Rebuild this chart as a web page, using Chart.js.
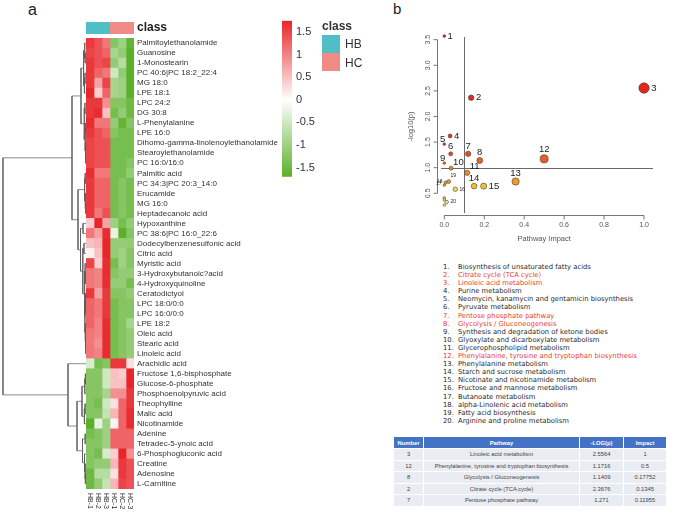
<!DOCTYPE html>
<html>
<head>
<meta charset="utf-8">
<script src="https://cdn.jsdelivr.net/npm/chart.js@4.4.0/dist/chart.umd.min.js"></script>
<style>
  body { margin: 0; background: #fff; }
  #page { position: relative; width: 676px; height: 514px; overflow: hidden; font-family: 'Liberation Sans', Arial, sans-serif; }
  #page canvas { position: absolute; }
  .panel { position: absolute; color: #222; }
  .clsLegend { position: absolute; font-size: 12px; color: #333; }
  .swatch { position: absolute; width: 18px; height: 18px; }
  #pathList { position: absolute; left: 443px; top: 263px; font-family: 'DejaVu Sans', sans-serif; font-size: 6.8px; line-height: 8.1px; color: #2a2a2a; white-space: nowrap; }
  #pathList .num { display: inline-block; width: 15px; }
  #pathList .hot { color: #e8412f; }
  #pathTable { position: absolute; left: 393px; top: 436px; width: 273px; border-collapse: collapse; font-size: 5.8px; color: #444; table-layout: fixed; }
  #pathTable th { background: #4472c4; color: #fff; font-weight: bold; height: 11px; padding: 0; border: 1px solid #fff; }
  #pathTable td { background: #e9ecf2; height: 10.5px; padding: 0; text-align: center; border: 1px solid #fff; }
</style>
</head>
<body>
<div id="page">
  <div class="panel" style="left:28px;top:2px;font-size:16px;line-height:16px">a</div>
  <div class="panel" style="left:393px;top:1px;font-size:15px;line-height:15px">b</div>

  <canvas id="dendro" width="86" height="494" style="left:0;top:20px"></canvas>
  <canvas id="heat" width="244" height="494" style="left:86px;top:20px"></canvas>
  <canvas id="scaleBar" width="48" height="180" style="left:282px;top:10px"></canvas>

  <div class="clsLegend" style="left:322px;top:19px;font-weight:bold">class</div>
  <div class="swatch" id="swHB" style="left:322px;top:35px"></div>
  <div class="swatch" id="swHC" style="left:322px;top:53px"></div>
  <div class="clsLegend" style="left:345px;top:37px">HB</div>
  <div class="clsLegend" style="left:345px;top:56px">HC</div>

  <canvas id="bubble" width="281" height="230" style="left:395px;top:20px"></canvas>

  <div id="pathList"></div>
  <table id="pathTable"></table>
</div>

<script>
// ---- panel a: heatmap data ----
const metabolites = [
  'Palmitoylethanolamide', 'Guanosine', '1-Monostearin', 'PC 40:6|PC 18:2_22:4', 'MG 18:0',
  'LPE 18:1', 'LPC 24:2', 'DG 30:8', 'L-Phenylalanine', 'LPE 16:0',
  'Dihomo-gamma-linolenoylethanolamide', 'Stearoylethanolamide', 'PC 16:0/16:0', 'Palmitic acid', 'PC 34:3|PC 20:3_14:0',
  'Erucamide', 'MG 16:0', 'Heptadecanoic acid', 'Hypoxanthine', 'PC 38:6|PC 16:0_22:6',
  'Dodecylbenzenesulfonic acid', 'Citric acid', 'Myristic acid', '3-Hydroxybutanoic?acid', '4-Hydroxyquinoline',
  'Ceratodictyol', 'LPC 18:0/0:0', 'LPC 16:0/0:0', 'LPE 18:2', 'Oleic acid',
  'Stearic acid', 'Linoleic acid', 'Arachidic acid', 'Fructose 1,6-bisphosphate', 'Glucose-6-phosphate',
  'Phosphoenolpyruvic acid', 'Theophylline', 'Malic acid', 'Nicotinamide', 'Adenine',
  'Tetradec-5-ynoic acid', '6-Phosphogluconic acid', 'Creatine', 'Adenosine', 'L-Carnitine'
];
const sampleNames = ['HB-1', 'HB-2', 'HB-3', 'HC-1', 'HC-2', 'HC-3'];
const sampleClass = ['HB', 'HB', 'HB', 'HC', 'HC', 'HC'];

// z-scores, one row per metabolite (HB-1 .. HC-3)
const zScores = [
  [1.6, 1.4, 1.1, -1.25, -1.0, -1.6],
  [1.5, 1.4, 1.25, -0.9, -1.1, -1.7],
  [1.6, 1.4, 1.5, -1.1, -0.75, -1.7],
  [1.6, 1.25, 1.1, -0.5, -1.1, -1.7],
  [1.6, 0.75, 1.5, -0.9, -1.0, -1.7],
  [1.75, 0.4, 1.25, -0.9, -1.0, -1.7],
  [1.6, 1.6, 0.9, -1.25, -1.25, -1.5],
  [1.6, 1.7, 0.5, -1.4, -1.1, -1.5],
  [1.7, 1.1, 1.1, -1.1, -1.6, -1.25],
  [1.6, 1.4, 1.25, -1.25, -1.4, -1.4],
  [1.5, 1.4, 1.4, -1.4, -1.4, -1.4],
  [1.5, 1.4, 1.4, -1.4, -1.4, -1.4],
  [1.5, 1.4, 1.4, -1.4, -1.4, -1.25],
  [1.7, 1.1, 1.1, -1.4, -1.4, -1.1],
  [1.6, 1.25, 1.25, -1.4, -1.25, -1.4],
  [1.6, 1.25, 1.25, -1.4, -1.25, -1.4],
  [1.6, 1.25, 1.25, -1.4, -1.25, -1.4],
  [1.6, 1.1, 1.4, -1.4, -1.25, -1.4],
  [0.4, 1.75, 0.75, -1.0, -1.4, -1.1],
  [1.1, 0.75, 1.7, -0.25, -1.7, -1.25],
  [0.5, 0.6, 1.75, -1.1, -1.1, -1.1],
  [0.1, 0.5, 1.75, -1.1, -1.0, -1.25],
  [1.5, 0.4, 1.7, -1.4, -1.0, -1.25],
  [1.1, 1.0, 1.7, -1.25, -1.1, -1.1],
  [1.1, 1.0, 1.7, -1.1, -1.1, -1.4],
  [1.6, 0.75, 1.6, -1.25, -1.25, -1.1],
  [1.25, 1.1, 1.6, -1.4, -1.25, -1.25],
  [1.25, 1.1, 1.6, -1.4, -1.25, -1.25],
  [1.25, 1.0, 1.7, -1.4, -1.25, -0.9],
  [1.1, 1.0, 1.7, -1.4, -1.25, -1.1],
  [1.1, 0.9, 1.7, -1.4, -1.25, -1.1],
  [1.1, 1.0, 1.7, -1.4, -1.25, -1.1],
  [-0.4, -1.4, -1.25, 1.6, 1.6, 0.25],
  [-1.25, -1.25, -0.5, 0.5, 0.4, 1.75],
  [-1.25, -1.25, -0.5, 0.5, 0.5, 1.75],
  [-1.25, -1.25, -0.9, 0.9, 0.9, 1.6],
  [-1.25, -1.4, -0.5, 0.25, 1.25, 1.6],
  [-1.25, -1.25, -0.6, 0.6, 1.25, 1.7],
  [-1.7, -0.25, -1.0, 0.1, 1.25, 1.7],
  [-1.4, -1.25, -1.0, 1.25, 1.25, 1.25],
  [-1.25, -1.25, -1.0, 1.25, 1.25, 1.25],
  [-1.25, -1.4, -0.4, 0.4, 1.75, 0.9],
  [-1.25, -1.1, -1.1, 0.6, 1.6, 1.4],
  [-1.5, -0.75, -0.75, 0.25, 1.6, 1.4],
  [-1.5, -1.1, -0.6, 0.6, 1.5, 1.4]
];

// row clustering: [left, right, height], leaves are row indices
const rowTreeA1 = [[[0, [1, 2, 0.8], 1.3], [[3, 4, 1.0], 5, 1.6], 2.4],
                   [[6, 7, 1.1], [[8, 9, 0.7], [10, [11, 12, 0.4], 0.6], 1.0], 1.8], 5];
const rowTreeA2 = [[[13, 14, 0.8], [15, [16, 17, 0.5], 0.8], 1.4],
                   [[18, 19, 3.0], [[20, 21, 2.0], [[22, [23, 24, 0.6], 1.0],
                     [[25, [26, 27, 0.3], 0.6], [28, [29, [30, 31, 0.3], 0.5], 0.8], 1.1], 1.6], 3.2], 5.5], 8];
const rowTreeB = [32, [[[[33, 34, 0.6], 35, 1.2], [[36, 37, 0.9], 38, 1.6], 4],
                       [[39, 40, 0.8], [41, [42, [43, 44, 0.6], 1.0], 1.5], 3.5], 9], 18];
const rowTree = [[rowTreeA1, rowTreeA2, 14], rowTreeB, 83];

const zMin = -1.7, zMax = 1.75;
const legendTicks = [-1.5, -1, -0.5, 0, 0.5, 1, 1.5];

// ---- panel b: pathway data ----
const pathwayNames = [
  'Biosynthesis of unsaturated fatty acids', 'Citrate cycle (TCA cycle)', 'Linoleic acid metabolism',
  'Purine metabolism', 'Neomycin, kanamycin and gentamicin biosynthesis', 'Pyruvate metabolism',
  'Pentose phosphate pathway', 'Glycolysis / Gluconeogenesis', 'Synthesis and degradation of ketone bodies',
  'Glyoxylate and dicarboxylate metabolism', 'Glycerophospholipid metabolism',
  'Phenylalanine, tyrosine and tryptophan biosynthesis', 'Phenylalanine metabolism', 'Starch and sucrose metabolism',
  'Nicotinate and nicotinamide metabolism', 'Fructose and mannose metabolism', 'Butanoate metabolism',
  'alpha-Linolenic acid metabolism', 'Fatty acid biosynthesis', 'Arginine and proline metabolism'
];
const highlightedPathways = [2, 3, 7, 8, 12];
const pointIds = ['1', '2', '3', '4', '5', '6', '7', '8', '9', '10', '11', '12', '13', '14', '15', '16', '17', '18', '19', '20', '', '', ''];
const pathwayImpact = [0, 0.1345, 1, 0.029, 0, 0.032, 0.11955, 0.17752, 0, 0.034, 0.114, 0.5, 0.357, 0.149, 0.197, 0.055, 0, 0.007, 0.022, 0.012, 0, 0, 0];
const pathwayLogP = [3.57, 2.3676, 2.5564, 1.62, 1.46, 1.27, 1.271, 1.1409, 1.09, 0.99, 0.90, 1.1716, 0.73, 0.64, 0.64, 0.58, 0.66, 0.71, 0.73, 0.33, 0.41, 0.37, 0.27];
const impactTicks = [0, 0.2, 0.4, 0.6, 0.8, 1.0];
const logPTicks = [0.5, 1.0, 1.5, 2.0, 2.5, 3.0, 3.5];
const impactCut = 0.1, logPCut = 1.0;

// table
const tableHeader = ['Number', 'Pathway', '-LOG(p)', 'Impact'];
const tableNumber = ['3', '12', '8', '2', '7'];
const tablePathway = ['Linoleic acid metabolism', 'Phenylalanine, tyrosine and tryptophan biosynthesis',
  'Glycolysis / Gluconeogenesis', 'Citrate cycle (TCA cycle)', 'Pentose phosphate pathway'];
const tableLogP = ['2.5564', '1.1716', '1.1409', '2.3676', '1.271'];
const tableImpact = ['1', '0.5', '0.17752', '0.1345', '0.11955'];

// ---- styles ----
Chart.defaults.font.family = "'Liberation Sans', Arial, sans-serif";
const classColor = { HB: '#4fbec6', HC: '#ef8b84' };
const lowRGB = [90, 176, 42], midRGB = [255, 255, 255], highRGB = [232, 38, 42];
const zeroPos = (0 - zMin) / (zMax - zMin);

function mix(a, b, t) {
  return 'rgb(' + a.map((v, i) => Math.round(v + (b[i] - v) * t)).join(',') + ')';
}
function zColor(v) {
  const t = Math.min(1, Math.max(0, (v - zMin) / (zMax - zMin)));
  return t < zeroPos ? mix(lowRGB, midRGB, t / zeroPos) : mix(midRGB, highRGB, (t - zeroPos) / (1 - zeroPos));
}

const bubbleStops = [[0.25, [246, 242, 180]], [0.58, [244, 222, 60]], [0.64, [242, 194, 42]], [0.73, [240, 152, 43]],
  [1.0, [233, 132, 47]], [1.15, [230, 98, 42]], [1.3, [226, 70, 42]], [1.6, [223, 48, 40]],
  [2.3, [230, 40, 32]], [3.6, [200, 32, 28]]];
function pColor(v) {
  for (let i = 1; i < bubbleStops.length; i++) {
    const [v0, c0] = bubbleStops[i - 1], [v1, c1] = bubbleStops[i];
    if (v <= v1) return mix(c0, c1, Math.max(0, (v - v0) / (v1 - v0)));
  }
  const last = bubbleStops[bubbleStops.length - 1][1];
  return mix(last, last, 0);
}
function impactRadius(imp) {
  return 1.3 + 3.9 * Math.sqrt(imp);
}
// where each number sits relative to its bubble
const labelPlace = ['r', 'r', 'r', 'r', 'tl', 't', 't', 't', 'tl', 'tr', 'tr', 't', 't', 't', 'r', 'rs', 'ls', 'ls', 'trs', 'rs', '', '', ''];

// ---- dendrogram ----
const segments = [];
function place(node) {
  if (typeof node === 'number') return { y: node, h: 0 };
  const a = place(node[0]), b = place(node[1]), h = node[2];
  segments.push([{ x: a.h, y: a.y }, { x: h, y: a.y }, { x: h, y: b.y }, { x: b.h, y: b.y }]);
  return { y: (a.y + b.y) / 2, h: h };
}
place(rowTree);

new Chart(document.getElementById('dendro'), {
  type: 'scatter',
  data: {
    datasets: segments.map(seg => ({
      data: seg, showLine: true, borderColor: '#5a5a5a', borderWidth: 0.7,
      pointRadius: 0, fill: false, clip: false
    }))
  },
  options: {
    responsive: false, animation: false,
    layout: { padding: { top: 18, bottom: 25, left: 3, right: 0 } },
    plugins: { legend: { display: false }, tooltip: { enabled: false } },
    scales: {
      x: { type: 'linear', min: 0, max: 83, reverse: true, display: false },
      y: { type: 'linear', min: -0.5, max: metabolites.length - 0.5, reverse: true, display: false }
    }
  }
});

// ---- heatmap ----
const heatDecor = {
  id: 'heatDecor',
  afterDraw(chart) {
    const { ctx, chartArea, scales } = chart;
    ctx.save();
    sampleNames.forEach((s, c) => {
      const x0 = scales.x.getPixelForValue(c), x1 = scales.x.getPixelForValue(c + 1);
      ctx.fillStyle = classColor[sampleClass[c]];
      ctx.fillRect(x0, chartArea.top - 16, x1 - x0, 12);
      // column label, reads downward
      ctx.save();
      ctx.translate((x0 + x1) / 2, chartArea.bottom + 4);
      ctx.rotate(Math.PI / 2);
      ctx.fillStyle = '#333';
      ctx.font = "7px 'Liberation Sans', Arial";
      ctx.textAlign = 'left';
      ctx.textBaseline = 'middle';
      ctx.fillText(s, 0, 0);
      ctx.restore();
    });
    ctx.fillStyle = '#222';
    ctx.font = "bold 12px 'Liberation Sans', Arial";
    ctx.textBaseline = 'middle';
    ctx.fillText('class', chartArea.right + 3, chartArea.top - 10);
    ctx.restore();
  }
};

new Chart(document.getElementById('heat'), {
  type: 'bar',
  data: {
    labels: metabolites,
    datasets: sampleNames.map((s, c) => ({
      label: s,
      data: metabolites.map(() => [c, c + 1]),
      backgroundColor: zScores.map(row => zColor(row[c])),
      borderWidth: 0,
      barPercentage: 1,
      categoryPercentage: 1,
      grouped: false
    }))
  },
  options: {
    indexAxis: 'y', responsive: false, animation: false,
    layout: { padding: { top: 18, bottom: 25, left: 0, right: 0 } },
    plugins: { legend: { display: false }, tooltip: { enabled: false } },
    scales: {
      x: { type: 'linear', min: 0, max: sampleNames.length, display: false },
      y: {
        position: 'right',
        grid: { display: false, drawTicks: false },
        border: { display: false },
        ticks: { font: { size: 8 }, color: '#333', padding: 3, autoSkip: false },
        afterFit: s => { s.width = 196; }
      }
    }
  },
  plugins: [heatDecor]
});

// ---- colour scale ----
new Chart(document.getElementById('scaleBar'), {
  type: 'bar',
  data: {
    labels: [''],
    datasets: [{
      data: [[zMin, zMax]],
      backgroundColor: ctx => {
        const area = ctx.chart.chartArea;
        if (!area) return '#fff';
        const g = ctx.chart.ctx.createLinearGradient(0, area.bottom, 0, area.top);
        g.addColorStop(0, mix(lowRGB, lowRGB, 0));
        g.addColorStop(zeroPos, '#ffffff');
        g.addColorStop(1, mix(highRGB, highRGB, 0));
        return g;
      },
      borderWidth: 0, barPercentage: 1, categoryPercentage: 1
    }]
  },
  options: {
    responsive: false, animation: false,
    layout: { padding: { top: 10.7, bottom: 13.3, left: 0, right: 0 } },
    plugins: { legend: { display: false }, tooltip: { enabled: false } },
    scales: {
      x: { display: false },
      y: {
        position: 'right', min: zMin, max: zMax,
        grid: { display: false, drawTicks: false },
        border: { display: false },
        ticks: { font: { size: 11 }, color: '#333', padding: 4, callback: v => String(v) },
        afterBuildTicks: s => { s.ticks = legendTicks.map(v => ({ value: v })); },
        afterFit: s => { s.width = 38; }
      }
    }
  }
});

document.getElementById('swHB').style.background = classColor.HB;
document.getElementById('swHC').style.background = classColor.HC;

// ---- bubble plot ----
const bubbleDecor = {
  id: 'bubbleDecor',
  beforeDatasetsDraw(chart) {
    const { ctx, chartArea, scales } = chart;
    ctx.save();
    ctx.strokeStyle = '#6a6a6a';
    ctx.lineWidth = 1;
    const vx = Math.round(scales.x.getPixelForValue(impactCut)) + 0.5;
    const hy = Math.round(scales.y.getPixelForValue(logPCut)) + 0.5;
    ctx.beginPath();
    ctx.moveTo(vx, chartArea.top + 7);
    ctx.lineTo(vx, chartArea.bottom - 2);
    ctx.moveTo(chartArea.left + 4, hy);
    ctx.lineTo(chartArea.right - 2, hy);
    ctx.stroke();
    ctx.restore();
  },
  afterDraw(chart) {
    const { ctx, chartArea, scales } = chart;
    const xs = scales.x, ys = scales.y;
    ctx.save();
    ctx.strokeStyle = '#555';
    ctx.fillStyle = '#555';
    ctx.lineWidth = 0.8;
    ctx.font = "7px 'Liberation Sans', Arial";
    // y axis
    const ax = chartArea.left + 0.5;
    ctx.beginPath();
    ctx.moveTo(ax, ys.getPixelForValue(logPTicks[0]));
    ctx.lineTo(ax, ys.getPixelForValue(logPTicks[logPTicks.length - 1]));
    logPTicks.forEach(v => {
      const y = ys.getPixelForValue(v);
      ctx.moveTo(ax, y);
      ctx.lineTo(ax - 4, y);
    });
    ctx.stroke();
    ctx.textAlign = 'center';
    ctx.textBaseline = 'middle';
    logPTicks.forEach(v => {
      ctx.save();
      ctx.translate(ax - 9, ys.getPixelForValue(v));
      ctx.rotate(-Math.PI / 2);
      ctx.fillText(v.toFixed(1), 0, 0);
      ctx.restore();
    });
    // x axis
    const ay = chartArea.bottom + 0.5;
    ctx.beginPath();
    ctx.moveTo(xs.getPixelForValue(impactTicks[0]), ay);
    ctx.lineTo(xs.getPixelForValue(impactTicks[impactTicks.length - 1]), ay);
    impactTicks.forEach(v => {
      const x = xs.getPixelForValue(v);
      ctx.moveTo(x, ay);
      ctx.lineTo(x, ay + 4);
    });
    ctx.stroke();
    impactTicks.forEach(v => ctx.fillText(v.toFixed(1), xs.getPixelForValue(v), ay + 10));
    // titles
    ctx.font = "7.5px 'Liberation Sans', Arial";
    ctx.fillText('Pathway Impact', (xs.getPixelForValue(0) + xs.getPixelForValue(1)) / 2, ay + 23);
    ctx.save();
    ctx.translate(chartArea.left - 26, ys.getPixelForValue(2.0) + 10);
    ctx.rotate(-Math.PI / 2);
    ctx.fillText('-log10(p)', 0, 0);
    ctx.restore();
    // point numbers
    const pts = chart.getDatasetMeta(0).data;
    ctx.fillStyle = '#222';
    pts.forEach((p, i) => {
      const id = pointIds[i], pos = labelPlace[i];
      if (!id) return;
      const r = impactRadius(pathwayImpact[i]);
      const small = pos.endsWith('s');
      ctx.font = (small ? 5 : 9.5) + "px 'Liberation Sans', Arial";
      ctx.textBaseline = 'middle';
      const kind = small ? pos.slice(0, -1) : pos;
      if (kind === 'r') { ctx.textAlign = 'left'; ctx.fillText(id, p.x + r + 2, p.y); }
      else if (kind === 'l') { ctx.textAlign = 'right'; ctx.fillText(id, p.x - r - 1.5, p.y - 1); }
      else if (kind === 't') { ctx.textAlign = 'center'; ctx.fillText(id, p.x, p.y - r - 5); }
      else if (kind === 'tl') { ctx.textAlign = 'right'; ctx.fillText(id, p.x + 1, p.y - r - 3); }
      else if (kind === 'tr') { ctx.textAlign = 'left'; ctx.fillText(id, p.x + r, p.y - r - 4); }
    });
    ctx.restore();
  }
};

new Chart(document.getElementById('bubble'), {
  type: 'bubble',
  data: {
    datasets: [{
      data: pathwayImpact.map((imp, i) => ({ x: imp, y: pathwayLogP[i], r: impactRadius(imp) })),
      backgroundColor: pathwayLogP.map(pColor),
      borderColor: '#4a3a30',
      borderWidth: 0.6,
      clip: false
    }]
  },
  options: {
    responsive: false, animation: false,
    layout: { padding: { left: 42, right: 21, top: 10, bottom: 35 } },
    plugins: { legend: { display: false }, tooltip: { enabled: false } },
    scales: {
      x: { type: 'linear', min: -0.0366, max: 1.055, display: false },
      y: { type: 'linear', min: 0.076, max: 3.689, display: false }
    }
  },
  plugins: [bubbleDecor]
});

// ---- pathway list ----
const list = document.getElementById('pathList');
pathwayNames.forEach((name, i) => {
  const row = document.createElement('div');
  if (highlightedPathways.includes(i + 1)) row.className = 'hot';
  const num = document.createElement('span');
  num.className = 'num';
  num.textContent = (i + 1) + '.';
  row.appendChild(num);
  row.appendChild(document.createTextNode(name));
  list.appendChild(row);
});

// ---- table ----
const table = document.getElementById('pathTable');
const colWidths = [30, 156, 44, 43];
const colgroup = document.createElement('colgroup');
colWidths.forEach(w => {
  const col = document.createElement('col');
  col.style.width = w + 'px';
  colgroup.appendChild(col);
});
table.appendChild(colgroup);
const head = document.createElement('tr');
tableHeader.forEach(h => {
  const th = document.createElement('th');
  th.textContent = h;
  head.appendChild(th);
});
table.appendChild(head);
tableNumber.forEach((n, i) => {
  const tr = document.createElement('tr');
  [n, tablePathway[i], tableLogP[i], tableImpact[i]].forEach(v => {
    const td = document.createElement('td');
    td.textContent = v;
    tr.appendChild(td);
  });
  table.appendChild(tr);
});
</script>
</body>
</html>
